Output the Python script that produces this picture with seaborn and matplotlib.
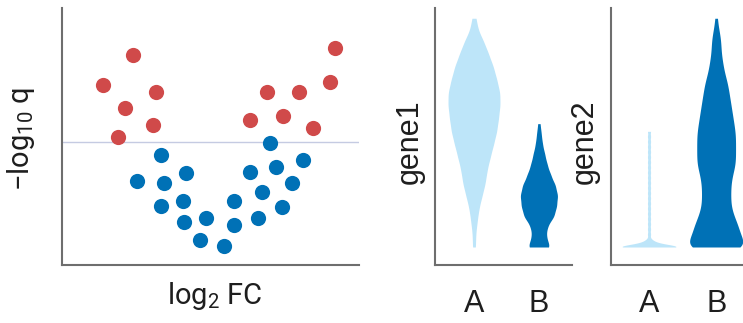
import seaborn as sns
import pandas as pd
import numpy as np
import matplotlib.pyplot as plt

# volcano points (log2 FC, -log10 q), arbitrary units 0-10
red_x = [1.38, 2.39, 2.12, 3.16, 3.06, 1.89, 6.33, 6.90, 7.44, 7.98, 8.45, 9.02, 9.19]
red_y = [7.00, 8.17, 6.11, 6.73, 5.45, 4.98, 5.64, 6.73, 5.80, 6.73, 5.33, 7.12, 8.44]
blue_x = [3.33, 2.53, 3.43, 4.18, 3.33, 4.07, 4.11, 4.85, 4.65, 5.45,
          5.79, 5.79, 6.33, 6.73, 6.60, 7.00, 7.21, 7.41, 7.74, 8.11]
blue_y = [4.28, 3.27, 3.19, 3.58, 2.30, 2.49, 1.67, 1.83, 0.97, 0.74,
          2.49, 1.56, 3.62, 2.84, 1.83, 4.75, 3.81, 2.26, 3.19, 4.09]
q_cut = 4.79

# expression values per group: value levels and how many cells sit at each
g1A_val = [0.7, 1.2, 1.7, 2.2, 2.7, 3.2, 3.7, 4.2, 4.7, 5.2, 5.7, 6.2, 6.7, 7.2, 7.7,
           8.2, 8.7, 9.2, 9.6]
g1A_n = [1, 1, 2, 3, 5, 7, 8, 10, 12, 14, 15, 16, 16, 14, 12, 9, 6, 2, 1]
g1B_val = [0.7, 1.1, 1.5, 1.9, 2.3, 2.7, 3.1, 3.5, 3.9, 4.3, 4.7, 5.1, 5.5]
g1B_n = [10, 6, 7, 13, 15, 16, 14, 10, 7, 5, 3, 2, 1]
g2A_val = [0.7, 0.8, 0.9, 1.0, 1.2, 1.4, 1.6, 1.8, 2.0, 2.2, 2.4, 2.6, 2.8, 3.0,
           3.2, 3.4, 3.6, 3.8, 4.0, 4.2, 4.4, 4.6, 4.8, 5.0, 5.2]
g2A_n = [16, 5, 2, 1, 1, 1, 1, 1, 1, 1, 1, 1, 1, 1, 1, 1, 1, 1, 1, 1, 1, 1, 1, 1, 1]
g2B_val = [0.7, 1.1, 1.5, 1.9, 2.3, 2.7, 3.1, 3.5, 3.9, 4.3, 4.7, 5.1, 5.5, 5.9,
           6.3, 6.7, 7.1, 7.5, 7.9, 8.3, 8.7, 9.1, 9.6]
g2B_n = [21, 15, 14, 11, 9, 9, 9, 10, 12, 12, 12, 12, 11, 10, 9, 8, 7, 5, 4, 3, 3, 2, 1]
groups = ['A', 'B']

red = '#d04a4a'
blue = '#0071b6'
light = '#bde5f9'
spine_col = '#6e6e6e'

sns.set_style('white')
plt.rcParams['mathtext.default'] = 'regular'

fig = plt.figure(figsize=(7.43, 3.23), dpi=100)
ax1 = fig.add_axes([0.0834, 0.1796, 0.3996, 0.7957])
ax2 = fig.add_axes([0.5855, 0.1796, 0.1844, 0.7957])
ax3 = fig.add_axes([0.8223, 0.1796, 0.1777, 0.7957])

# volcano
ax1.axhline(q_cut, color='#c5cbe2', lw=1, zorder=0)
sns.scatterplot(x=red_x, y=red_y, color=red, s=120, linewidth=0, ax=ax1)
sns.scatterplot(x=blue_x, y=blue_y, color=blue, s=120, linewidth=0, ax=ax1)
ax1.set_xlim(0, 10)
ax1.set_ylim(0, 10)
ax1.set_xticks([])
ax1.set_yticks([])
ax1.set_xlabel('log$_2$ FC', fontsize=21, family='Roboto', color='#1e1e1e')
ax1.set_ylabel('−log$_{10}$ q', fontsize=21, family='Roboto', color='#1e1e1e')
ax1.xaxis.set_label_coords(0.515, -0.06)
ax1.yaxis.set_label_coords(-0.084, 0.49)

# violins
def violin(ax, vals, counts, grp, col, width, bw):
    v = np.repeat(vals, counts)
    # seaborn scales the bandwidth by scott factor * std, so convert to absolute
    adj = bw / (len(v) ** -0.2 * np.std(v, ddof=1))
    df = pd.DataFrame({'grp': grp, 'val': v})
    sns.violinplot(data=df, x='grp', y='val', order=groups, color=col, cut=0,
                   inner=None, linewidth=0, width=width, bw_adjust=adj,
                   saturation=1, gridsize=400, ax=ax)

violin(ax2, g1A_val, g1A_n, 'A', light, 0.8, 0.3)
violin(ax2, g1B_val, g1B_n, 'B', blue, 0.57, 0.22)
violin(ax3, g2A_val, g2A_n, 'A', light, 0.8, 0.08)
violin(ax3, g2B_val, g2B_n, 'B', blue, 0.79, 0.3)
ax2.set_xlim(-0.6, 1.51)
ax3.set_xlim(-0.567, 1.40)

for ax, lab in [(ax2, 'gene1'), (ax3, 'gene2')]:
    ax.set_ylim(0, 10)
    ax.set_yticks([])
    ax.set_xlabel('')
    ax.set_ylabel(lab, fontsize=22, family='Liberation Sans', color='#1e1e1e')
    ax.tick_params(axis='x', length=0, pad=17, labelsize=22)
    for t in ax.get_xticklabels():
        t.set_family('Liberation Sans')
        t.set_color('#1e1e1e')
ax2.yaxis.set_label_coords(-0.073, 0.48)
ax3.yaxis.set_label_coords(-0.083, 0.48)

for ax in [ax1, ax2, ax3]:
    for s in ['top', 'right']:
        ax.spines[s].set_visible(False)
    for s in ['left', 'bottom']:
        ax.spines[s].set_color(spine_col)
        ax.spines[s].set_linewidth(1.5)
    ax.set_facecolor('none')

fig.savefig('out.png', dpi=100)
